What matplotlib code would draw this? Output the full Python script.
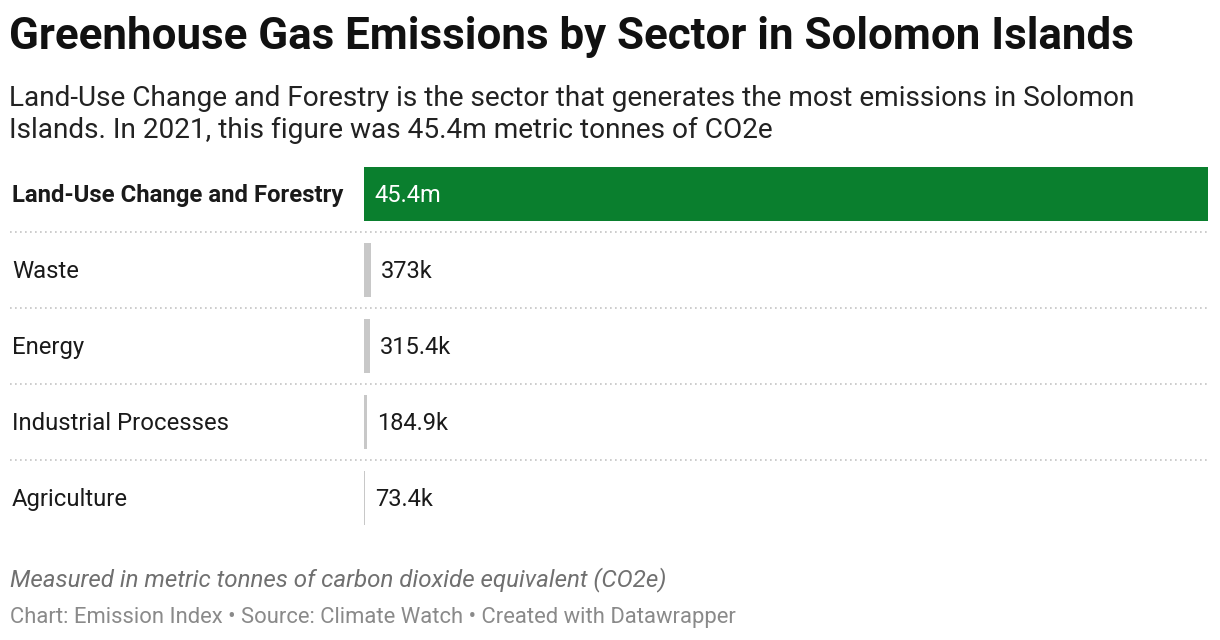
import matplotlib.pyplot as plt
import matplotlib.transforms as mtransforms

plt.rcParams['font.family'] = ['Roboto', 'DejaVu Sans']

# data
sectors = ['Land-Use Change and Forestry', 'Waste', 'Energy',
           'Industrial Processes', 'Agriculture']
emissions = [45_400_000, 373_000, 315_400, 184_900, 73_400]
value_labels = ['45.4m', '373k', '315.4k', '184.9k', '73.4k']

title = 'Greenhouse Gas Emissions by Sector in Solomon Islands'
subtitle_lines = ['Land-Use Change and Forestry is the sector that generates the most emissions in Solomon',
                  'Islands. In 2021, this figure was 45.4m metric tonnes of CO2e']
note = 'Measured in metric tonnes of carbon dioxide equivalent (CO2e)'
source = 'Chart: Emission Index \u2022 Source: Climate Watch \u2022 Created with Datawrapper'

W, H = 1220, 640
fig = plt.figure(figsize=(W / 100, H / 100), dpi=100)
fig.patch.set_facecolor('white')


def px(x, y):
    # pixel coords (from top-left) -> figure fraction
    return x / W, 1 - y / H


# axes for the bars
ax_left, ax_right, ax_top, ax_bottom = 364, 1208, 156, 536
ax = fig.add_axes([ax_left / W, 1 - ax_bottom / H,
                   (ax_right - ax_left) / W, (ax_bottom - ax_top) / H])
ax.set_xlim(0, max(emissions))
ax.set_ylim(len(sectors) - 0.5, -0.5)
ax.axis('off')

rows = list(range(len(sectors)))
colors = ['#0a7f2e'] + ['#c8c8c8'] * (len(sectors) - 1)
ax.barh(rows, emissions, height=0.70, color=colors, edgecolor='none')

# dotted separators
for i in rows[:-1]:
    ax.axhline(i + 0.5, xmin=(10 - ax_left) / (ax_right - ax_left), xmax=1,
               color='#c4c4c4', lw=1.2, ls=(0, (1, 2)), clip_on=False)

# row labels, nudged down a little to sit like the reference
lab_tr = mtransforms.blended_transform_factory(fig.transFigure, ax.transData)
lab_tr = lab_tr + mtransforms.ScaledTranslation(0, -1.5 / 100, fig.dpi_scale_trans)
for i, name in enumerate(sectors):
    ax.text(12 / W, i, name, transform=lab_tr, ha='left', va='center',
            fontsize=17.2, color='#1a1a1a',
            fontweight='bold' if i == 0 else 'normal')

# value labels
for i, (v, lab) in enumerate(zip(emissions, value_labels)):
    if i == 0:
        ax.annotate(lab, (0, i), xytext=(10, -1.5), textcoords='offset pixels',
                    ha='left', va='center', fontsize=17, color='white')
    else:
        ax.annotate(lab, (v, i), xytext=(10, -1.5), textcoords='offset pixels',
                    ha='left', va='center', fontsize=17, color='#1a1a1a')

# header
fig.text(*px(9, 37), title, fontsize=31.6, fontweight='bold',
         color='#111111', ha='left', va='center')
for k, line in enumerate(subtitle_lines):
    fig.text(*px(9, 98 + 32 * k), line, fontsize=20.2, color='#222222',
             ha='left', va='center')

# footer
fig.text(*px(10, 580), note, fontsize=17.4, style='italic', color='#707070',
         ha='left', va='center')
fig.text(*px(10, 617), source, fontsize=15.8, color='#8a8a8a',
         ha='left', va='center')

fig.savefig('out.png', dpi=100, facecolor='white')
